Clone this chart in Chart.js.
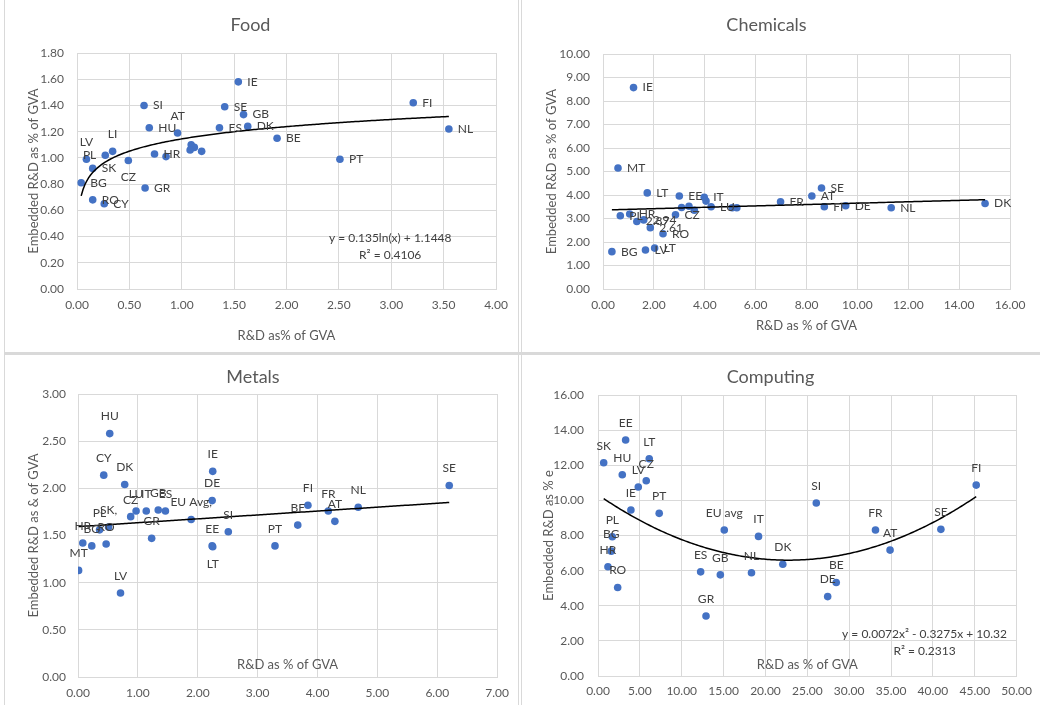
<!DOCTYPE html>
<html>
<head>
<meta charset="utf-8">
<script src="https://cdn.jsdelivr.net/npm/chart.js@4.4.0/dist/chart.umd.min.js"></script>
<style>
  body { margin: 0; width: 1040px; height: 705px; overflow: hidden; position: relative; background: #fff; }
  canvas { position: absolute; }
  .sep { position: absolute; background: #d9d9d9; }
</style>
</head>
<body>
<div class="sep" style="left:4px;top:0;width:1px;height:705px"></div>
<div class="sep" style="left:518px;top:0;width:1px;height:705px"></div>
<div class="sep" style="left:521px;top:0;width:1px;height:705px"></div>
<div class="sep" style="left:4px;top:352px;width:1036px;height:3px"></div>
<canvas id="food" width="513" height="352" style="left:5px;top:0"></canvas>
<canvas id="chem" width="517" height="352" style="left:523px;top:0"></canvas>
<canvas id="metals" width="513" height="349" style="left:5px;top:356px"></canvas>
<canvas id="comp" width="517" height="349" style="left:523px;top:356px"></canvas>
<script>
// ---- Food ----
const foodLabels = ['IE','SI','SE','GB','AT','HU','ES','DK','BE','','','','','LI','PL','SK','LV','HR','','CZ','BG','GR','RO','CY','FI','NL','PT'];
const foodX = [1.54,0.64,1.41,1.59,0.96,0.69,1.36,1.63,1.91,1.09,1.12,1.08,1.19,0.34,0.27,0.15,0.09,0.74,0.85,0.49,0.04,0.65,0.15,0.26,3.21,3.55,2.51];
const foodY = [1.58,1.40,1.39,1.33,1.19,1.23,1.23,1.24,1.15,1.10,1.08,1.06,1.05,1.05,1.02,0.92,0.99,1.03,1.01,0.98,0.81,0.77,0.68,0.65,1.42,1.22,0.99];

// ---- Chemicals ----
const chemLabels = ['IE','MT','LT','EE','IT','','LU','','','','CZ','PL','HR','2.87','2.94','2.61','RO','BG','LV','LT','','','FR','AT','SE','FI','DE','NL','DK'];
const chemX = [1.20,0.59,1.74,3.00,3.98,4.05,4.25,3.09,3.38,3.59,2.85,0.68,1.05,1.33,1.60,1.86,2.36,0.35,1.67,2.03,5.08,5.26,6.98,8.21,8.59,8.70,9.54,11.33,15.02];
const chemY = [8.57,5.15,4.09,3.96,3.90,3.74,3.50,3.47,3.52,3.35,3.16,3.12,3.19,2.87,2.94,2.61,2.35,1.59,1.66,1.74,3.46,3.46,3.71,3.96,4.30,3.50,3.54,3.46,3.64];

// ---- Metals ----
const metLabels = ['HU','CY','DK','CZ','LU','IT','GB','ES','EU Avg,','IE','DE','EE','LT','SI','PT','BE','FI','FR','AT','NL','SE','GR','PL','SK,','HR','BG','RO','MT','LV'];
const metX = [0.53,0.43,0.78,0.88,0.97,1.14,1.34,1.46,1.89,2.25,2.24,2.24,2.25,2.51,3.29,3.67,3.84,4.18,4.29,4.68,6.20,1.23,0.36,0.51,0.08,0.23,0.47,0.01,0.71];
const metY = [2.58,2.14,2.04,1.70,1.76,1.76,1.77,1.76,1.67,2.18,1.87,1.39,1.38,1.54,1.39,1.61,1.82,1.76,1.65,1.80,2.03,1.47,1.56,1.59,1.42,1.39,1.41,1.13,0.89];

// ---- Computing ----
const compLabels = ['SK','EE','HU','LT','CZ','LV','IE','PT','PL','BG','HR','RO','ES','GR','GB','EU avg','NL','IT','DK','SI','DE','BE','FR','AT','SE','FI'];
const compX = [0.68,3.30,2.90,6.12,5.76,4.81,3.93,7.31,1.71,1.59,1.19,2.35,12.26,12.90,14.61,15.08,18.33,19.17,22.07,26.07,27.43,28.45,33.14,34.88,40.95,45.17];
const compY = [12.14,13.44,11.46,12.37,11.12,10.76,9.45,9.26,7.93,7.11,6.22,5.04,5.93,3.42,5.76,8.31,5.88,7.95,6.36,9.85,4.52,5.32,8.31,7.17,8.35,10.87];

const foodTrend = { type: 'log', a: 0.135, b: 1.1448 };
const chemTrend = { type: 'lin', a: 0.0293, b: 3.36 };
const metTrend = { type: 'lin', a: 0.0413, b: 1.594 };
const compTrend = { type: 'poly', a: 0.0072, b: -0.3275, c: 10.32 };

// label placement: r = right, a = above, b = below, l = left
const foodPos = ['r','r','r','r','a','r','r','r','r','r','r','r','r','a','l','r','a','r','r','b','r','r','r','r','r','r','r'];
const chemPos = chemLabels.map(() => 'r');
const metPos = metLabels.map(l => l === 'LT' ? 'b' : 'a');
const compPos = compLabels.map(() => 'a');

const FONT = 'Lato, "Open Sans", sans-serif';
const TXT = '#595959';
const GRID = '#d9d9d9';

function trendValue(t, x) {
    if (t.type === 'log') return t.a * Math.log(x) + t.b;
    if (t.type === 'poly') return t.a * x * x + t.b * x + t.c;
    return t.a * x + t.b;
}

const pointExtras = {
    id: 'pointExtras',
    afterDatasetsDraw(chart, args, opts) {
        const ctx = chart.ctx;
        const xs = chart.scales.x, ys = chart.scales.y;
        const area = chart.chartArea;
        const vals = chart.data.datasets[0].data.map(p => p.x);
        const lo = Math.min(...vals), hi = Math.max(...vals);

        // trendline
        ctx.save();
        ctx.beginPath();
        ctx.rect(area.left, area.top, area.right - area.left, area.bottom - area.top);
        ctx.clip();
        ctx.strokeStyle = '#000';
        ctx.lineWidth = 1.5;
        ctx.beginPath();
        const n = 200;
        for (let i = 0; i <= n; i++) {
            const x = lo + (hi - lo) * i / n;
            const px = xs.getPixelForValue(x), py = ys.getPixelForValue(trendValue(opts.trend, x));
            if (i === 0) ctx.moveTo(px, py); else ctx.lineTo(px, py);
        }
        ctx.stroke();
        ctx.restore();

        // point labels
        ctx.save();
        ctx.font = '12px ' + FONT;
        ctx.fillStyle = '#404040';
        chart.getDatasetMeta(0).data.forEach((pt, i) => {
            const text = opts.labels[i];
            if (!text) return;
            const p = opts.pos[i];
            if (p === 'a') { ctx.textAlign = 'center'; ctx.textBaseline = 'middle'; ctx.fillText(text, pt.x, pt.y - 17); }
            else if (p === 'b') { ctx.textAlign = 'center'; ctx.textBaseline = 'middle'; ctx.fillText(text, pt.x, pt.y + 17); }
            else if (p === 'l') { ctx.textAlign = 'right'; ctx.textBaseline = 'middle'; ctx.fillText(text, pt.x - 9, pt.y); }
            else { ctx.textAlign = 'left'; ctx.textBaseline = 'middle'; ctx.fillText(text, pt.x + 9, pt.y); }
        });

        // equation box
        if (opts.eq) {
            ctx.fillStyle = '#404040';
            ctx.textAlign = 'center';
            ctx.textBaseline = 'middle';
            const ex = xs.getPixelForValue(opts.eq.x), ey = ys.getPixelForValue(opts.eq.y);
            opts.eq.lines.forEach((l, k) => ctx.fillText(l, ex, ey + k * 17));
        }
        ctx.restore();
    }
};

function buildChart(id, s) {
    const tickFont = { family: FONT, size: 12 };
    const titleFont = { family: FONT, size: 13 };
    return new Chart(document.getElementById(id), {
        type: 'scatter',
        data: {
            datasets: [{
                data: s.xs.map((x, i) => ({ x: x, y: s.ys[i] })),
                backgroundColor: '#4472c4',
                borderWidth: 0,
                pointRadius: 3.8,
                pointHoverRadius: 3.8
            }]
        },
        options: {
            responsive: false,
            animation: false,
            events: [],
            layout: { padding: { left: 0, right: s.padRight, top: 0, bottom: 0 } },
            plugins: {
                legend: { display: false },
                tooltip: { enabled: false },
                title: {
                    display: true, text: s.title, color: TXT,
                    font: { family: FONT, size: 18, weight: 'normal' },
                    padding: { top: s.titleTop, bottom: s.titleBottom }
                },
                pointExtras: { labels: s.labels, pos: s.pos, trend: s.trend, eq: s.eq }
            },
            scales: {
                x: {
                    type: 'linear', min: 0, max: s.xMax,
                    ticks: { stepSize: s.xStep, color: TXT, font: tickFont, padding: s.xTickPad, autoSkip: false, maxRotation: 0, callback: v => v.toFixed(2) },
                    grid: { color: GRID, drawTicks: false },
                    border: { color: GRID },
                    title: { display: true, text: s.xTitle, color: TXT, font: titleFont, padding: { top: 0, bottom: s.xTitleBottom } },
                    afterFit: sc => { sc.height = s.xAxisHeight; }
                },
                y: {
                    type: 'linear', min: 0, max: s.yMax,
                    ticks: { stepSize: s.yStep, color: TXT, font: tickFont, padding: s.yTickPad, autoSkip: false, callback: v => v.toFixed(2) },
                    grid: { color: GRID, drawTicks: false },
                    border: { color: GRID },
                    title: { display: true, text: s.yTitle, color: TXT, font: titleFont, padding: { top: s.yTitleTop, bottom: 0 } },
                    afterFit: sc => { sc.width = s.yAxisWidth; }
                }
            }
        },
        plugins: [pointExtras]
    });
}

buildChart('food', {
    title: 'Food', xs: foodX, ys: foodY, labels: foodLabels, pos: foodPos, trend: foodTrend,
    eq: { x: 2.99, y: 0.39, lines: ['y = 0.135ln(x) + 1.1448', 'R\u00b2 = 0.4106'] },
    xMax: 4, xStep: 0.5, yMax: 1.8, yStep: 0.2,
    xTitle: 'R&D as% of GVA', yTitle: 'Embedded R&D as % of GVA',
    padRight: 22, titleTop: 14, titleBottom: 17.4, yAxisWidth: 72, yTickPad: 13, yTitleTop: 21,
    xAxisHeight: 63, xTickPad: 9, xTitleBottom: 8
});

buildChart('chem', {
    title: 'Chemicals', xs: chemX, ys: chemY, labels: chemLabels, pos: chemPos, trend: chemTrend, eq: null,
    xMax: 16, xStep: 2, yMax: 10, yStep: 1,
    xTitle: 'R&D as % of GVA', yTitle: 'Embedded R&D as % of GVA',
    padRight: 30, titleTop: 14, titleBottom: 18.4, yAxisWidth: 80, yTickPad: 13, yTitleTop: 21,
    xAxisHeight: 63, xTickPad: 9, xTitleBottom: 18
});

buildChart('metals', {
    title: 'Metals', xs: metX, ys: metY, labels: metLabels, pos: metPos, trend: metTrend, eq: null,
    xMax: 7, xStep: 1, yMax: 3, yStep: 0.5,
    xTitle: 'R&D as % of GVA', yTitle: 'Embedded R&D as & of GVA',
    padRight: 17, titleTop: 10, titleBottom: 6.4, yAxisWidth: 73, yTickPad: 12, yTitleTop: 21,
    xAxisHeight: 28, xTickPad: 9, xTitleBottom: 32
});

buildChart('comp', {
    title: 'Computing', xs: compX, ys: compY, labels: compLabels, pos: compPos, trend: compTrend,
    eq: { x: 39.0, y: 2.38, lines: ['y = 0.0072x\u00b2 - 0.3275x + 10.32', 'R\u00b2 = 0.2313'] },
    xMax: 50, xStep: 5, yMax: 16, yStep: 2,
    xTitle: 'R&D as % of GVA', yTitle: 'Embedded R&D as % e',
    padRight: 22, titleTop: 10, titleBottom: 7.4, yAxisWidth: 75, yTickPad: 14, yTitleTop: 18,
    xAxisHeight: 29, xTickPad: 8, xTitleBottom: 32
});
</script>
</body>
</html>
